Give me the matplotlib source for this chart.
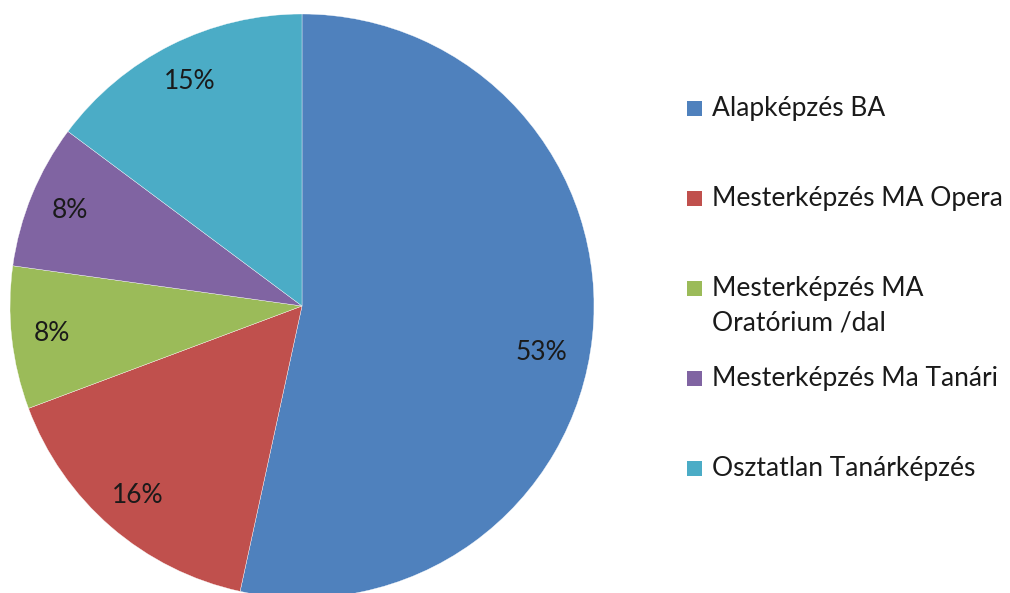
import matplotlib
matplotlib.use("Agg")
import matplotlib.pyplot as plt
from matplotlib.patches import Rectangle

# Share of students by programme (in %)
categories = [
    "Alapképzés BA",
    "Mesterképzés MA Opera",
    "Mesterképzés MA\nOratórium /dal",
    "Mesterképzés Ma Tanári",
    "Osztatlan Tanárképzés",
]
shares = [53.4, 15.9, 7.9, 8.0, 14.8]
colors = ["#4F81BD", "#C0504D", "#9BBB59", "#8064A2", "#4BACC6"]

plt.rcParams["font.family"] = ["Lato", "DejaVu Sans"]
text_color = "#1a1a1a"
font_size = 19

W, H = 1010, 593
fig = plt.figure(figsize=(W / 100, H / 100), dpi=100)

# Pie: centre (302, 306) px from the top-left, radius 292 px
cx, cy, r = 302, 306, 292
ax = fig.add_axes([(cx - r) / W, (H - cy - r) / H, 2 * r / W, 2 * r / H])
wedges, _, autotexts = ax.pie(
    shares,
    colors=colors,
    startangle=90,
    counterclock=False,
    autopct="%.0f%%",
    pctdistance=0.86,
    wedgeprops={"edgecolor": "white", "linewidth": 0.25},
    textprops={"fontsize": font_size, "color": text_color},
)
ax.set_xlim(-1, 1)
ax.set_ylim(-1, 1)
ax.set_aspect("equal")
ax.axis("off")

# Excel put the big slice's label a little lower than its mid-angle
autotexts[0].set_position((0.82, -0.16))

# Legend drawn by hand so the two-line entry keeps the Excel-like spacing
sq = 15
for i, (label, color) in enumerate(zip(categories, colors)):
    baseline = 116 + i * 90
    fig.patches.append(Rectangle(
        (687 / W, (H - baseline) / H), sq / W, sq / H,
        transform=fig.transFigure, facecolor=color, edgecolor="none",
    ))
    first, *rest = label.split("\n")
    fig.text(712 / W, (H - baseline) / H, first, fontsize=font_size,
             color=text_color, va="baseline", ha="left")
    for j, line in enumerate(rest, start=1):
        fig.text(712 / W, (H - baseline - 34 * j) / H, line, fontsize=font_size,
                 color=text_color, va="baseline", ha="left")

fig.savefig("out.png", dpi=100, facecolor="white")
